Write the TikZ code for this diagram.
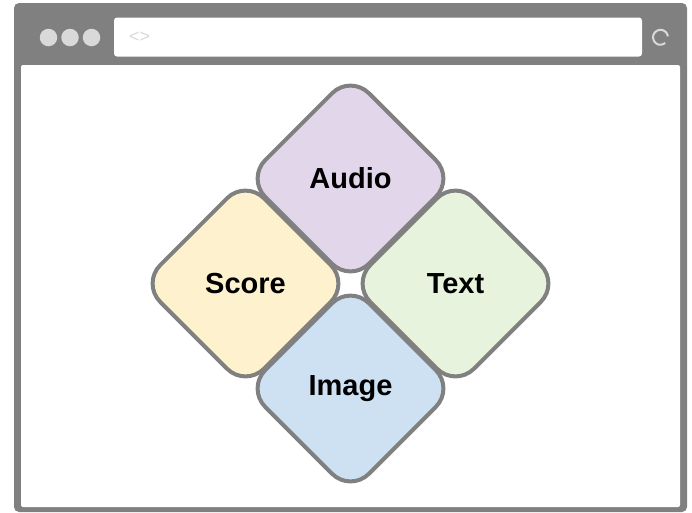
\documentclass[tikz,border=0pt]{standalone}
\usepackage{fontspec}
\setmainfont{Liberation Sans}
\usetikzlibrary{shapes.geometric, positioning}
\definecolor{grigio}{HTML}{808080}
\definecolor{grigiochiaro}{HTML}{D9D9D9}
\definecolor{viola}{HTML}{E2D6EA}
\definecolor{giallo}{HTML}{FEF1CD}
\definecolor{verde}{HTML}{E7F3DC}
\definecolor{azzurro}{HTML}{CDE1F2}

\begin{document}
\begin{tikzpicture}[
  x=1pt, y=-1pt,
  riquadro/.style={diamond, aspect=1, draw=grigio, line width=4pt, minimum size=209pt,
                   rounded corners=26pt, inner sep=0pt, font=\fontsize{29}{33}\selectfont\bfseries},
  pallino/.style={circle, fill=grigiochiaro, minimum size=17.5pt, inner sep=0pt},
  icona/.style={draw=grigiochiaro, line width=2pt}
]
\useasboundingbox (0,0) rectangle (692,512);

% cornice della finestra
\fill[grigio, rounded corners=5pt] (14,3) rectangle (687,512);
\fill[white, rounded corners=2pt] (21,65) rectangle (680,507);
\node[fill=white, rounded corners=3pt, minimum width=528pt, minimum height=39pt,
      inner sep=0pt] (barra) at (378,37) {};

\node[pallino] (p1) at (48.5,37.5) {};
\node[pallino] (p2) at (70,37.5) {};
\node[pallino] (p3) at (91.5,37.5) {};

\node[text=grigiochiaro, font=\fontsize{18}{20}\selectfont, inner sep=0pt,
      anchor=west] (frecce) at (129,37) {<>};
\draw[icona] (660.5,37.3) ++(-8:7.5) arc[start angle=-8, end angle=-310, radius=7.5];

% i quattro riquadri
\node[riquadro, fill=viola]   (audio) at (350.5,178.5) {Audio};
\node[riquadro, fill=giallo]  (score) at (245.5,283.5) {Score};
\node[riquadro, fill=verde]   (testo) at (455.5,283.5) {Text};
\node[riquadro, fill=azzurro] (image) at (350.5,388.5) {Image};

\end{tikzpicture}
\end{document}
